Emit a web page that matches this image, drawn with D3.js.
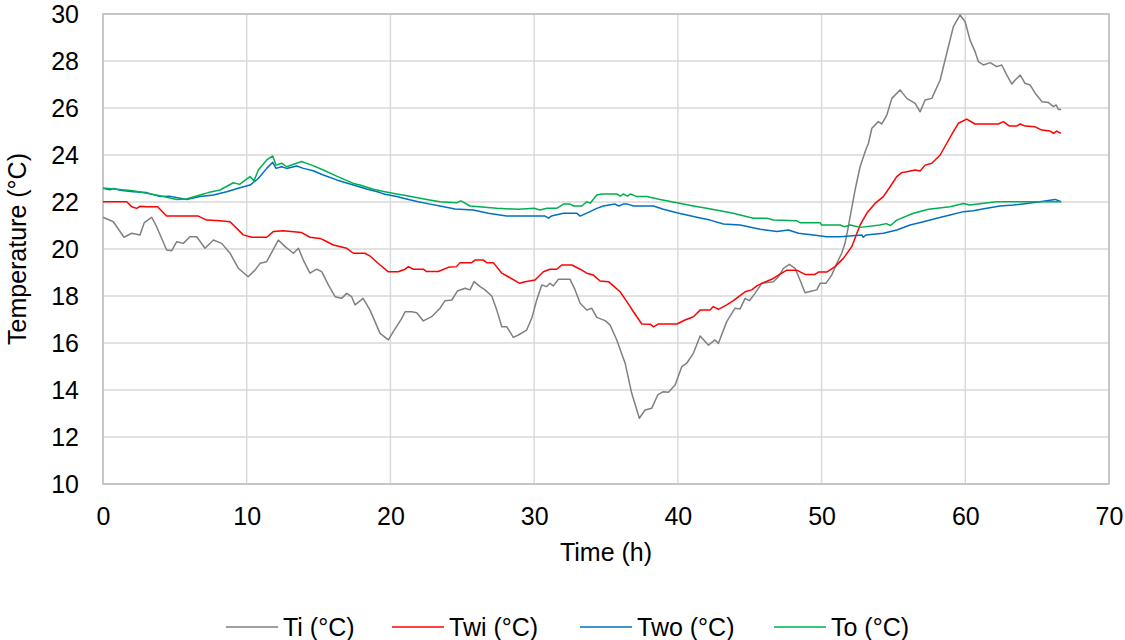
<!DOCTYPE html>
<html>
<head>
<meta charset="utf-8">
<script src="https://cdn.jsdelivr.net/npm/d3@7"></script>
<style>
  html, body { margin: 0; padding: 0; background: #fff; }
  svg { display: block; font-family: "Liberation Sans", Arial, sans-serif; }
</style>
</head>
<body>
<svg id="chart" width="1125" height="640"></svg>
<script>
// ---- data (time in h, temperature in °C) ----
const seriesNames = ["Ti (°C)", "Twi (°C)", "Two (°C)", "To (°C)"];
const seriesColors = ["#808080", "#ff0000", "#0070c0", "#00b050"];
const xTicks = [0, 10, 20, 30, 40, 50, 60, 70];
const yTicks = [10, 12, 14, 16, 18, 20, 22, 24, 26, 28, 30];

const ti = [[0,21.35],[0.72,21.16],[1.46,20.5],[2.0,20.67],[2.57,20.6],[2.87,21.12],[3.39,21.35],[3.73,20.95],[4.43,19.96],[4.78,19.93],[5.13,20.31],[5.59,20.24],[6.05,20.52],[6.52,20.52],[7.1,20.03],[7.68,20.38],[8.26,20.24],[8.84,19.82],[9.42,19.18],[10.1,18.82],[10.58,19.1],[10.93,19.39],[11.39,19.46],[12.2,20.38],[12.67,20.1],[13.25,19.82],[13.6,20.03],[13.94,19.53],[14.4,18.97],[14.87,19.14],[15.22,19.04],[15.68,18.47],[16.15,17.97],[16.6,17.9],[16.96,18.11],[17.3,17.97],[17.54,17.62],[18.1,17.9],[18.58,17.4],[19.28,16.41],[19.86,16.13],[20.2,16.48],[20.79,17.05],[21.02,17.33],[21.48,17.33],[21.83,17.29],[22.29,16.94],[22.87,17.12],[23.45,17.48],[23.8,17.8],[24.27,17.83],[24.66,18.21],[25.19,18.33],[25.54,18.26],[25.82,18.61],[26.24,18.4],[26.58,18.26],[27.05,18.0],[27.4,17.4],[27.75,16.69],[28.1,16.69],[28.55,16.24],[28.9,16.34],[29.48,16.55],[29.83,17.05],[30.18,17.83],[30.53,18.47],[30.88,18.4],[31.1,18.54],[31.34,18.43],[31.69,18.71],[32.5,18.71],[32.85,18.26],[33.2,17.69],[33.66,17.4],[34.0,17.48],[34.36,17.09],[34.94,16.95],[35.28,16.77],[35.75,16.13],[36.33,15.14],[36.79,13.86],[37.32,12.8],[37.72,13.15],[38.18,13.22],[38.6,13.79],[38.99,13.93],[39.34,13.9],[39.81,14.21],[40.27,14.99],[40.62,15.14],[41.08,15.56],[41.55,16.3],[42.12,15.91],[42.59,16.13],[42.82,15.98],[43.4,16.91],[43.98,17.48],[44.33,17.45],[44.68,17.9],[44.98,17.8],[45.37,18.11],[45.84,18.54],[46.65,18.61],[47.0,18.82],[47.35,19.18],[47.76,19.35],[48.16,19.18],[48.5,18.68],[48.85,18.14],[49.32,18.21],[49.67,18.26],[49.9,18.54],[50.3,18.54],[50.7,18.89],[51.06,19.39],[51.4,19.82],[51.63,20.24],[51.8,20.75],[52.33,22.51],[52.68,23.5],[53.03,24.14],[53.26,24.5],[53.5,25.14],[53.95,25.42],[54.19,25.32],[54.54,25.7],[54.89,26.41],[55.46,26.77],[55.93,26.41],[56.51,26.2],[56.86,25.84],[57.2,26.34],[57.67,26.41],[58.25,27.19],[58.71,28.33],[59.17,29.46],[59.64,29.96],[59.99,29.67],[60.33,28.89],[60.68,28.4],[60.91,27.97],[61.26,27.83],[61.73,27.93],[62.19,27.76],[62.54,27.83],[62.89,27.4],[63.24,27.02],[63.47,27.19],[63.82,27.4],[64.16,27.05],[64.51,26.98],[64.86,26.63],[65.33,26.27],[65.79,26.23],[66.14,26.06],[66.32,26.13],[66.48,25.94],[66.67,25.94]];

const twi = [[0,22.01],[1.65,22.01],[2.0,21.8],[2.34,21.73],[2.6,21.82],[3.0,21.8],[3.8,21.8],[4.43,21.4],[6.63,21.4],[7.22,21.23],[8.14,21.2],[8.84,21.16],[9.76,20.6],[10.35,20.5],[11.39,20.5],[11.85,20.74],[12.55,20.78],[13.82,20.7],[14.4,20.5],[15.1,20.45],[15.45,20.35],[16.03,20.17],[16.96,20.03],[17.42,19.82],[18.23,19.82],[18.58,19.7],[19.28,19.32],[19.86,19.03],[20.55,19.03],[21.02,19.14],[21.25,19.25],[21.6,19.14],[22.29,19.14],[22.52,19.04],[23.33,19.04],[24.03,19.22],[24.6,19.25],[24.84,19.42],[25.65,19.42],[25.88,19.53],[26.47,19.53],[26.7,19.42],[27.16,19.42],[27.75,18.97],[28.2,18.82],[29.0,18.54],[29.37,18.61],[30.06,18.68],[30.64,19.03],[31.1,19.14],[31.57,19.14],[31.92,19.32],[32.62,19.32],[33.2,19.14],[33.66,18.97],[34.12,18.89],[34.59,18.64],[35.17,18.61],[35.52,18.43],[35.98,18.18],[36.45,17.76],[36.91,17.33],[37.49,16.81],[38.07,16.8],[38.3,16.69],[38.65,16.81],[39.93,16.81],[40.5,16.98],[41.08,17.12],[41.55,17.4],[42.24,17.4],[42.47,17.55],[42.82,17.43],[43.4,17.62],[43.86,17.8],[44.33,18.02],[44.68,18.18],[45.14,18.26],[45.49,18.43],[45.95,18.57],[46.53,18.71],[47.0,18.89],[47.58,19.1],[48.27,19.1],[48.85,18.92],[49.55,18.92],[49.78,19.02],[50.36,19.02],[50.94,19.25],[51.52,19.6],[52.1,20.1],[52.68,21.02],[53.14,21.52],[53.72,21.94],[54.3,22.23],[54.77,22.65],[55.23,23.08],[55.58,23.25],[55.93,23.29],[56.51,23.36],[56.86,23.32],[57.2,23.57],[57.67,23.65],[58.25,24.0],[58.71,24.5],[59.17,24.99],[59.52,25.35],[60.1,25.53],[60.68,25.32],[62.3,25.32],[62.65,25.42],[63.07,25.23],[63.58,25.23],[63.82,25.32],[64.16,25.23],[64.86,25.2],[65.33,25.06],[65.9,25.02],[66.14,24.92],[66.37,25.02],[66.65,24.92]];

const two = [[0,22.58],[0.5,22.52],[0.72,22.58],[1.2,22.5],[2.1,22.44],[3.04,22.4],[3.97,22.23],[4.6,22.25],[5.36,22.16],[5.82,22.11],[6.75,22.23],[7.68,22.3],[8.61,22.44],[9.53,22.61],[10.23,22.72],[10.81,23.0],[11.39,23.43],[11.81,23.69],[12.04,23.43],[12.43,23.5],[12.78,23.43],[13.48,23.53],[13.94,23.43],[14.63,23.33],[15.33,23.15],[16.26,22.94],[17.42,22.72],[18.35,22.55],[19.28,22.4],[19.62,22.33],[20.44,22.23],[21.25,22.11],[21.94,22.01],[22.76,21.91],[23.45,21.83],[24.5,21.7],[25.77,21.66],[26.81,21.52],[28.09,21.4],[30.76,21.4],[31.0,21.31],[31.2,21.4],[32.04,21.52],[32.97,21.52],[33.2,21.4],[33.89,21.59],[34.36,21.73],[34.82,21.83],[35.63,21.91],[35.9,21.83],[36.2,21.91],[36.5,21.91],[36.91,21.83],[38.3,21.83],[38.99,21.69],[39.93,21.54],[41.32,21.35],[42.24,21.23],[43.17,21.06],[44.33,21.02],[45.72,20.84],[46.88,20.74],[47.69,20.81],[48.39,20.67],[49.43,20.6],[50.36,20.52],[51.29,20.52],[52.8,20.6],[52.9,20.5],[53.1,20.6],[54.3,20.67],[55.23,20.81],[56.16,21.02],[57.09,21.16],[58.02,21.31],[58.94,21.45],[59.87,21.59],[60.56,21.63],[61.49,21.73],[62.42,21.83],[63.35,21.87],[64.28,21.94],[65.2,22.01],[66.25,22.11],[66.67,22.01]];

const to = [[0,22.6],[2.1,22.48],[3.97,22.27],[5.13,22.11],[5.8,22.13],[6.75,22.3],[7.33,22.4],[8.14,22.51],[9.07,22.82],[9.5,22.75],[10.23,23.08],[10.5,22.9],[10.81,23.36],[11.39,23.79],[11.81,23.96],[12.04,23.57],[12.43,23.65],[12.78,23.5],[13.82,23.72],[14.52,23.57],[15.33,23.36],[16.26,23.1],[17.42,22.79],[17.88,22.72],[18.81,22.54],[19.62,22.44],[20.44,22.34],[21.25,22.26],[22.52,22.11],[23.45,22.01],[24.6,21.97],[24.9,22.05],[25.54,21.83],[27.4,21.73],[28.9,21.69],[30.0,21.73],[30.4,21.66],[30.88,21.73],[31.57,21.73],[32.04,21.91],[32.5,21.91],[32.74,21.83],[33.31,21.83],[33.66,22.01],[33.9,21.95],[34.36,22.3],[34.7,22.34],[35.75,22.34],[36.0,22.25],[36.2,22.34],[36.5,22.25],[36.7,22.34],[37.14,22.23],[37.84,22.23],[38.76,22.11],[39.58,22.01],[41.08,21.83],[42.0,21.73],[42.93,21.63],[43.86,21.52],[44.33,21.45],[45.26,21.31],[46.2,21.31],[46.65,21.23],[48.27,21.2],[48.5,21.12],[49.9,21.12],[50.0,21.02],[51.29,21.02],[51.6,20.95],[52.0,21.02],[52.68,20.92],[54.07,21.02],[54.5,21.08],[54.8,21.0],[55.23,21.23],[56.39,21.52],[57.44,21.69],[58.94,21.8],[59.87,21.94],[60.3,21.87],[62.19,22.01],[66.67,22.01]];

const seriesData = [ti, twi, two, to];

// ---- layout ----
const svg = d3.select("#chart");
const plot = { left: 103, right: 1109, top: 14, bottom: 484 };
const FS = 25;

const x = d3.scaleLinear().domain([0, 70]).range([plot.left, plot.right]);
const y = d3.scaleLinear().domain([10, 30]).range([plot.bottom, plot.top]);

// gridlines
const grid = svg.append("g");
grid.selectAll("line.h").data(yTicks).join("line")
  .attr("x1", plot.left).attr("x2", plot.right)
  .attr("y1", d => y(d)).attr("y2", d => y(d))
  .attr("stroke", "#d9d9d9").attr("stroke-width", 1.4);
grid.selectAll("line.v").data(xTicks).join("line")
  .attr("y1", plot.top).attr("y2", plot.bottom)
  .attr("x1", d => x(d)).attr("x2", d => x(d))
  .attr("stroke", "#d9d9d9").attr("stroke-width", 1.4);

// frame
svg.append("rect")
  .attr("x", plot.left).attr("y", plot.top)
  .attr("width", plot.right - plot.left).attr("height", plot.bottom - plot.top)
  .attr("fill", "none").attr("stroke", "#bfbfbf").attr("stroke-width", 1.6);

// axes (labels only, via d3 axis)
const yAxis = svg.append("g")
  .attr("transform", `translate(${plot.left},0)`)
  .call(d3.axisLeft(y).tickValues(yTicks).tickSize(0).tickPadding(24));
const xAxis = svg.append("g")
  .attr("transform", `translate(0,${plot.bottom})`)
  .call(d3.axisBottom(x).tickValues(xTicks).tickSize(0).tickPadding(23));
[yAxis, xAxis].forEach(a => {
  a.select(".domain").remove();
  a.selectAll("text").attr("font-size", FS).attr("fill", "#000")
    .attr("font-family", "'Liberation Sans', Arial, sans-serif");
});

// lines
const line = d3.line().x(d => x(d[0])).y(d => y(d[1])).curve(d3.curveLinear);
svg.append("g").selectAll("path").data(seriesData).join("path")
  .attr("d", line)
  .attr("fill", "none")
  .attr("stroke", (d, i) => seriesColors[i])
  .attr("stroke-width", 1.5)
  .attr("stroke-linejoin", "round");

// axis titles
svg.append("text")
  .attr("x", (plot.left + plot.right) / 2).attr("y", 561)
  .attr("text-anchor", "middle").attr("font-size", FS).attr("fill", "#000")
  .text("Time (h)");
svg.append("text")
  .attr("transform", `translate(26,${(plot.top + plot.bottom) / 2}) rotate(-90)`)
  .attr("text-anchor", "middle").attr("font-size", FS).attr("fill", "#000")
  .text("Temperature (°C)");

// legend
const legendX = [226, 392, 580, 774];
const legend = svg.append("g");
seriesNames.forEach((name, i) => {
  legend.append("line")
    .attr("x1", legendX[i]).attr("x2", legendX[i] + 52)
    .attr("y1", 627).attr("y2", 627)
    .attr("stroke", seriesColors[i]).attr("stroke-width", 1.5);
  legend.append("text")
    .attr("x", legendX[i] + 57).attr("y", 636)
    .attr("font-size", FS).attr("fill", "#000")
    .text(name);
});
</script>
</body>
</html>
